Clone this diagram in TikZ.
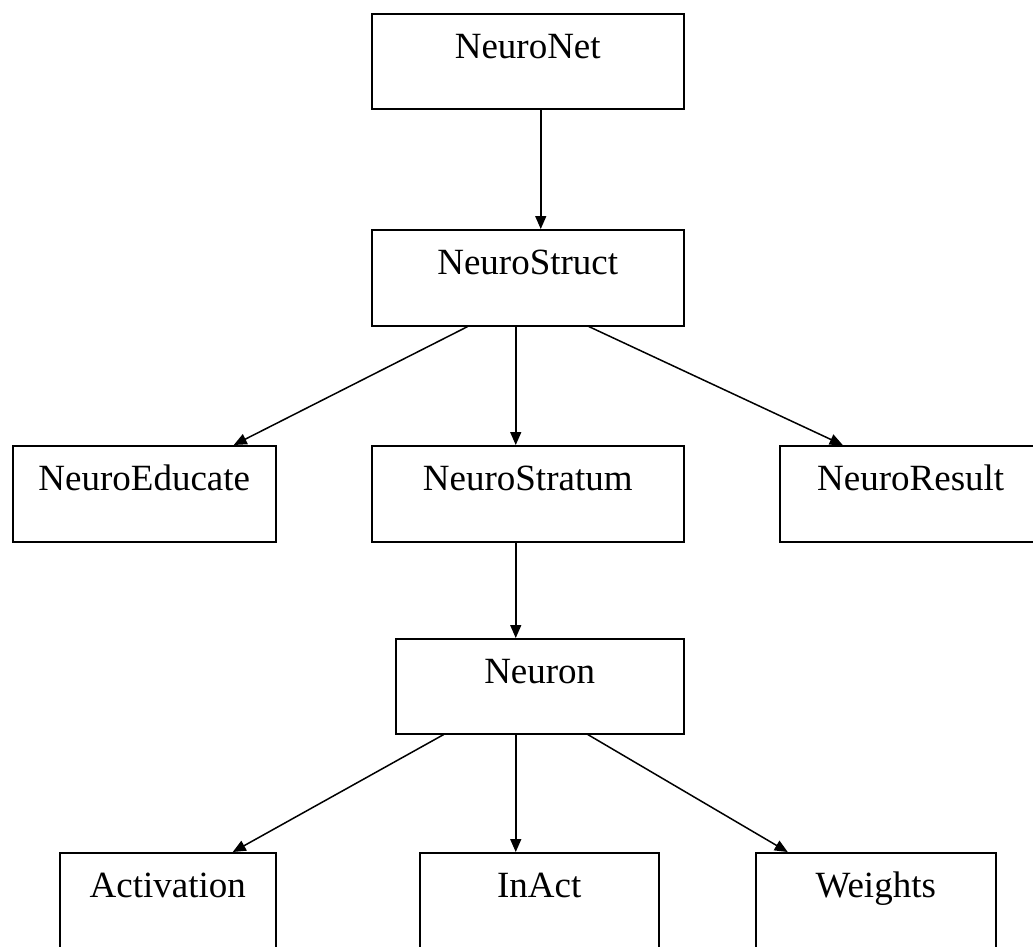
\documentclass[tikz,border=0pt]{standalone}
\usepackage{fontspec}
\setmainfont{Liberation Serif}
\usetikzlibrary{arrows.meta}
\begin{document}
\begin{tikzpicture}[x=1pt, y=-1pt,
  box/.style={draw, line width=1.5pt, inner sep=0pt, anchor=north west,
    align=center, text height=45pt, text depth=51pt,
    font=\fontsize{37}{44}\selectfont},
  arr/.style={line width=1.5pt, -{Triangle[length=13pt, width=11pt]}}]
\useasboundingbox (0,0) rectangle (1033,946);
\clip (0,0) rectangle (1033,946);
% class boxes, top to bottom
\node[box, text width=312pt, text depth=50pt] (net) at (371,13) {NeuroNet};
\node[box, text width=312pt] (struct) at (371,229) {NeuroStruct};
\node[box, text width=263pt] (educate) at (12,445) {NeuroEducate};
\node[box, text width=312pt] (stratum) at (371,445) {NeuroStratum};
\node[box, text width=262pt] (result) at (779,445) {NeuroResult};
\node[box, text width=288pt, text depth=50pt] (neuron) at (395,638) {Neuron};
\node[box, text width=216pt, text depth=60pt] (activation) at (59,852) {Activation};
\node[box, text width=239pt, text depth=60pt] (inact) at (419,852) {InAct};
\node[box, text width=240pt, text depth=60pt] (weights) at (755,852) {Weights};
% connectors
\draw[arr] ([xshift=13pt]net.south) -- ([xshift=13pt]struct.north);
\draw[arr] ([xshift=-60pt]struct.south) -- ([xshift=89.5pt]educate.north);
\draw[arr] ([xshift=-12pt]struct.south) -- ([xshift=-12pt]stratum.north);
\draw[arr] ([xshift=61pt]struct.south) -- ([xshift=-68pt]result.north);
\draw[arr] ([xshift=-12pt]stratum.south) -- ([xshift=-24pt]neuron.north);
\draw[arr] ([xshift=-96pt]neuron.south) -- ([xshift=65pt]activation.north);
\draw[arr] ([xshift=-24pt]neuron.south) -- ([xshift=-23.5pt]inact.north);
\draw[arr] ([xshift=48pt]neuron.south) -- ([xshift=-88pt]weights.north);
\end{tikzpicture}
\end{document}
